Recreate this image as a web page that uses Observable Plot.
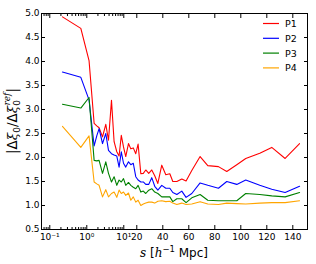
<!DOCTYPE html>
<html><head><meta charset="utf-8">
<script src="https://cdn.jsdelivr.net/npm/d3@7"></script>
<script src="https://cdn.jsdelivr.net/npm/@observablehq/plot@0.6"></script>
<style>
body{margin:0;background:#fff;}
#wrap{width:316px;height:264px;}
</style></head><body><div id="wrap"></div>
<script>
// separation s [h^-1 Mpc]
const sValues = [0.22,0.69,1.15,1.58,1.86,2.15,2.66,3.26,3.86,4.65,5.47,6.47,7.46,8.56,9.82,
  11.5,13.6,15.4,17.3,19.2,21.0,23.1,25.0,26.9,29.2,31.5,33.8,36.2,39.2,42.3,45.4,47.7,50.8,54.6,57.9,
  62.3,68.7,74.6,82.8,89.2,96.9,103.8,114.6,123.8,134.1,145.2];
const p1 = [4.93,4.69,4.02,2.71,2.66,2.62,2.43,2.69,2.36,3.19,2.33,2.12,2.03,2.46,2.22,
  2.02,2.29,2.18,2.20,2.08,2.28,1.66,1.67,1.74,1.67,1.74,1.62,1.46,1.84,1.64,1.66,1.50,1.50,1.55,1.51,
  1.73,2.02,1.83,1.81,1.71,1.85,1.98,2.09,2.21,1.98,2.29];
const p2 = [3.78,3.67,3.20,2.24,2.45,2.60,2.29,2.50,2.15,2.08,2.05,2.03,1.80,2.12,1.88,
  1.80,1.91,1.85,1.88,1.60,1.53,1.49,1.49,1.44,1.44,1.58,1.40,1.32,1.42,1.36,1.36,1.27,1.23,1.30,1.17,
  1.25,1.47,1.42,1.36,1.50,1.44,1.53,1.42,1.34,1.27,1.40];
const p3 = [3.11,3.03,3.25,1.94,1.93,1.94,1.67,1.91,1.67,1.49,1.60,1.42,1.53,1.49,1.56,
  1.42,1.48,1.42,1.38,1.35,1.42,1.28,1.30,1.25,1.32,1.35,1.28,1.25,1.18,1.18,1.18,1.08,1.14,1.14,1.06,
  1.16,1.23,1.11,1.10,1.10,1.10,1.25,1.23,1.20,1.18,1.27];
const p4 = [2.65,2.21,2.45,1.49,1.45,1.42,1.18,1.33,1.18,1.25,1.28,1.17,1.32,1.25,1.28,
  1.21,1.26,1.11,1.18,1.07,1.11,1.00,1.03,1.05,1.07,1.07,1.05,1.09,1.10,1.08,1.09,1.05,1.02,1.05,1.02,
  1.03,1.08,1.03,1.02,1.05,1.04,1.03,1.05,1.06,1.06,1.10];
const seriesNames = ["P1","P2","P3","P4"];
const seriesColors = ["#ff0000","#0000ff","#008000","#ffa500"];
const seriesValues = [p1,p2,p3,p4];

const yTicks = [0.5,1.0,1.5,2.0,2.5,3.0,3.5,4.0,4.5,5.0];
const xMajorTicks = [0.1,1,10,20,40,60,80,100,120,140];
const xMajorLabels = ["10\u207B\u00B9","10\u2070","10\u00B9","20","40","60","80","100","120","140"];
const xMinorTicks = [0.07,0.08,0.09,0.2,0.3,0.4,0.5,0.6,0.7,0.8,0.9,2,3,4,5,6,7,8,9];
const sMin = 0.0597, sMax = 151.3;

// hybrid axis: logarithmic below 10, linear above
const DEC = 37, LIN = 1.3;
const u = s => s <= 10 ? Math.log10(s) : 1 + (s - 10) * LIN / DEC;

const rows = [];
seriesNames.forEach((name, k) => {
  sValues.forEach((s, i) => rows.push({u: u(s), v: seriesValues[k][i], series: name}));
});
const labelOf = new Map(xMajorTicks.map((t, i) => [u(t), xMajorLabels[i]]));
const none = () => "";

const plot = Plot.plot({
  width: 316, height: 264,
  marginLeft: 41, marginRight: 9, marginTop: 13, marginBottom: 35,
  x: {domain: [u(sMin), u(sMax)]},
  y: {domain: [0.5, 5]},
  color: {domain: seriesNames, range: seriesColors},
  style: {fontFamily: "DejaVu Sans, sans-serif", fontSize: "9px", background: "white", color: "black"},
  marks: [
    Plot.line(rows, {x: "u", y: "v", z: "series", stroke: "series", strokeWidth: 1.1}),
    Plot.axisX({ticks: xMajorTicks.map(u), tickSize: 0, tickPadding: 4, tickFormat: d => labelOf.get(d) ?? "", label: null}),
    Plot.axisX({ticks: xMajorTicks.map(u), tickSize: -4, tickFormat: none, label: null}),
    Plot.axisX({ticks: xMinorTicks.map(u), tickSize: -2, tickFormat: none, label: null}),
    Plot.axisX({anchor: "top", ticks: xMajorTicks.map(u), tickSize: -4, tickFormat: none, label: null}),
    Plot.axisX({anchor: "top", ticks: xMinorTicks.map(u), tickSize: -2, tickFormat: none, label: null}),
    Plot.axisY({ticks: yTicks, tickSize: 0, tickPadding: 2, tickFormat: d => d.toFixed(1), label: null}),
    Plot.axisY({ticks: yTicks, tickSize: -4, tickFormat: none, label: null}),
    Plot.axisY({anchor: "right", ticks: yTicks, tickSize: -4, tickFormat: none, label: null}),
    Plot.frame({stroke: "black", strokeWidth: 1})
  ]
});
document.getElementById("wrap").appendChild(plot);

const svg = d3.select(plot);
// legend
const lg = svg.append("g");
seriesNames.forEach((name, k) => {
  const y = 23.5 + k * 14.8;
  lg.append("line").attr("x1", 263).attr("x2", 279).attr("y1", y).attr("y2", y)
    .attr("stroke", seriesColors[k]).attr("stroke-width", 1.2);
  lg.append("text").attr("x", 291).attr("y", y + 3.5).attr("font-size", 9.5)
    .attr("font-family", "DejaVu Sans").text(name);
});
// x label
const xl = svg.append("text").attr("x", 174).attr("y", 257).attr("text-anchor", "middle")
  .attr("font-size", 12).attr("font-family", "DejaVu Sans");
xl.append("tspan").attr("font-family", "DejaVu Serif").attr("font-style", "italic").text("s");
xl.append("tspan").text(" [");
xl.append("tspan").attr("font-family", "DejaVu Serif").attr("font-style", "italic").text("h");
xl.append("tspan").attr("font-size", 8.5).attr("dy", -5).text("\u22121");
xl.append("tspan").attr("dy", 5).text(" Mpc]");
// y label
const yl = svg.append("text").attr("transform", "translate(17,121) rotate(-90)")
  .attr("text-anchor", "middle").attr("font-size", 13.5).attr("font-family", "DejaVu Sans");
yl.append("tspan").text("|\u0394");
yl.append("tspan").attr("font-family", "DejaVu Serif").attr("font-style", "italic").text("\u03BE");
yl.append("tspan").attr("font-size", 9).attr("dy", 3).text("0");
yl.append("tspan").attr("dy", -3).text("/\u0394");
yl.append("tspan").attr("font-family", "DejaVu Serif").attr("font-style", "italic").text("\u03BE");
yl.append("tspan").attr("font-size", 9).attr("dy", 3).text("0");
yl.append("tspan").attr("font-size", 9).attr("font-family", "DejaVu Serif").attr("font-style", "italic")
  .attr("dx", -5.5).attr("dy", -10).text("ref");
yl.append("tspan").attr("dy", 7).text("|");
</script>
</body></html>
